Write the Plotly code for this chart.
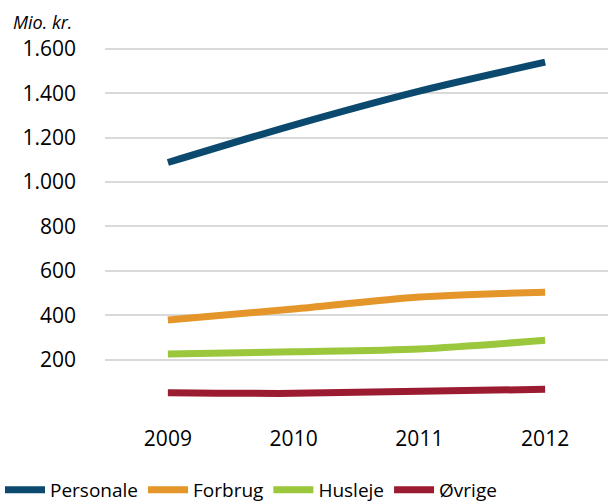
import plotly.graph_objects as go

years = ["2009", "2010", "2011", "2012"]
personale = [1088, 1257, 1410, 1540]
forbrug = [378, 428, 482, 504]
husleje = [225, 235, 248, 287]
ovrige = [51, 48, 58, 66]

series_names = ["Personale", "Forbrug", "Husleje", "Øvrige"]
series_values = [personale, forbrug, husleje, ovrige]
colors = ["#0B4A6E", "#E4962A", "#9BC73C", "#9B1C31"]

y_ticks = [0, 200, 400, 600, 800, 1000, 1200, 1400, 1600]
y_ticklabels = ["", "200", "400", "600", "800", "1.000", "1.200", "1.400", "1.600"]

FONT = "Open Sans"
W, H = 609, 503
ML, MR, MT, MB = 105, 1, 40, 99
PW, PH = W - ML - MR, H - MT - MB

fig = go.Figure()
for name, vals, c in zip(series_names, series_values, colors):
    fig.add_trace(go.Scatter(
        x=years, y=vals, name=name, mode="lines",
        line=dict(color=c, width=7, shape="spline", smoothing=0.8),
    ))

fig.update_layout(
    width=W, height=H,
    margin=dict(l=ML, r=MR, t=MT, b=MB, autoexpand=False),
    paper_bgcolor="white", plot_bgcolor="white",
    font=dict(family=FONT, size=20, color="#000000"),
    showlegend=True,
    legend=dict(
        orientation="h", x=0.0, xref="container", xanchor="left",
        y=(H - 490) / H, yref="container", yanchor="middle",
        font=dict(family=FONT, size=19, color="#000000"),
        itemwidth=40, tracegroupgap=0,
        bgcolor="rgba(0,0,0,0)",
    ),
    annotations=[dict(
        text="<i>Mio. kr.</i>",
        x=(11 - ML) / PW, y=1 + (MT - 22) / PH,
        xref="paper", yref="paper",
        showarrow=False, xanchor="left", yanchor="middle",
        font=dict(family=FONT, size=18, color="#000000"),
    )],
)
fig.update_xaxes(
    type="category", range=[-0.5, 3.5],
    showgrid=False, zeroline=False, showline=False,
    ticks="", ticklabelstandoff=20,
    tickfont=dict(family=FONT, size=21, color="#000000"),
)
fig.update_yaxes(
    range=[0, 1640], tickvals=y_ticks, ticktext=y_ticklabels,
    showgrid=True, gridcolor="#D9D9D9", gridwidth=1.5,
    zeroline=False, showline=False, ticks="", ticklabelstandoff=28,
    tickfont=dict(family=FONT, size=21, color="#000000"),
)
fig.write_html(
    "out.html",
    config={"displayModeBar": False},
    post_script="document.body.style.margin='0';document.body.style.padding='0';",
)
